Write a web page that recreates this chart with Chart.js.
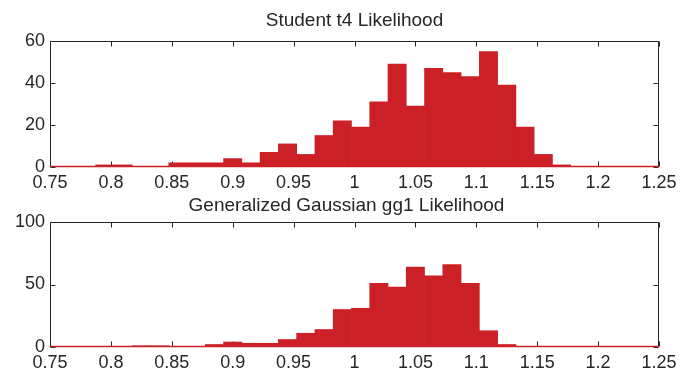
<!DOCTYPE html>
<html>
<head>
<meta charset="utf-8">
<script src="https://cdn.jsdelivr.net/npm/chart.js@4"></script>
<style>
  html, body { margin: 0; padding: 0; background: #fff; }
  #wrap { position: relative; width: 692px; height: 372px; }
  canvas { position: absolute; left: 0; }
</style>
</head>
<body>
<div id="wrap">
  <canvas id="studentChart" width="692" height="190" style="top:0"></canvas>
  <canvas id="ggChart" width="692" height="182" style="top:190px"></canvas>
</div>
<script>
// Bin centres shared by both histograms
const binCenters = [0.795, 0.810, 0.825, 0.840, 0.855, 0.870, 0.885, 0.900, 0.915, 0.930,
                    0.945, 0.960, 0.975, 0.990, 1.005, 1.020, 1.035, 1.050, 1.065, 1.080,
                    1.095, 1.110, 1.125, 1.140, 1.155, 1.170];

// Counts per bin
const studentCounts = [1, 1, 0, 0, 2, 2, 2, 4, 2, 7, 11, 6, 15, 22, 19, 31, 49, 29, 47, 45,
                       43, 55, 39, 19, 6, 1];
const ggCounts = [0, 0, 1, 1, 0, 0, 2, 4, 3, 3, 6, 11, 14, 30, 31, 51, 48, 64, 57, 66,
                  51, 13, 2, 0, 0, 0];

// Axis tick labels
const xTickLabels = ['0.75', '0.8', '0.85', '0.9', '0.95', '1', '1.05', '1.1', '1.15', '1.2', '1.25'];
const studentYTicks = [0, 20, 40, 60];
const ggYTicks = [0, 50, 100];

const titles = ['Student t4 Likelihood', 'Generalized Gaussian gg1 Likelihood'];

const RED = '#cc2027';
const INK = '#262626';
const FONT = 'Liberation Sans, Arial, Helvetica, sans-serif';

// MATLAB style box with inward ticks, red zero line, and panel title
const marcoMatlab = {
    id: 'marcoMatlab',
    beforeDatasetsDraw(chart) {
        const { ctx, chartArea: a } = chart;
        const x = chart.scales.x, y = chart.scales.y;
        const L = Math.round(a.left) + 0.5, R = Math.round(a.right) - 0.5;
        const T = Math.round(a.top) + 0.5, B = Math.round(a.bottom) - 0.5;
        ctx.save();
        ctx.strokeStyle = INK;
        ctx.lineWidth = 1;
        ctx.beginPath();
        for (let i = 0; i < x.ticks.length; i++) {
            const px = Math.round(x.getPixelForTick(i)) + 0.5;
            ctx.moveTo(px, B); ctx.lineTo(px, B - 5);
            ctx.moveTo(px, T); ctx.lineTo(px, T + 5);
        }
        for (let i = 0; i < y.ticks.length; i++) {
            const py = Math.round(y.getPixelForTick(i)) + 0.5;
            ctx.moveTo(L, py); ctx.lineTo(L + 5, py);
            ctx.moveTo(R, py); ctx.lineTo(R - 5, py);
        }
        ctx.moveTo(L, B); ctx.lineTo(L, T); ctx.lineTo(R, T); ctx.lineTo(R, B);
        ctx.stroke();
        ctx.restore();
    },
    afterDatasetsDraw(chart, args, opts) {
        const { ctx, chartArea: a } = chart;
        const B = Math.round(a.bottom) - 0.5;
        ctx.save();
        ctx.strokeStyle = RED;
        ctx.lineWidth = 1.5;
        ctx.beginPath();
        ctx.moveTo(Math.round(a.left), B);
        ctx.lineTo(Math.round(a.right), B);
        ctx.stroke();
        // title
        ctx.fillStyle = INK;
        ctx.font = '19px ' + FONT;
        ctx.textAlign = 'center';
        ctx.textBaseline = 'alphabetic';
        ctx.fillText(opts.text, (a.left + a.right) / 2 + opts.dx, opts.baseline);
        ctx.restore();
    }
};

function crearHistograma(canvasId, titulo, counts, yTicks, cfg) {
    return new Chart(document.getElementById(canvasId), {
        type: 'bar',
        data: {
            datasets: [{
                data: binCenters.map((c, i) => ({ x: c, y: counts[i] })),
                backgroundColor: RED,
                borderWidth: 0,
                barPercentage: 1,
                categoryPercentage: 1,
            }],
        },
        options: {
            responsive: false,
            animation: false,
            layout: { padding: { left: 0, right: 33, top: cfg.padTop, bottom: 0 } },
            plugins: {
                legend: { display: false },
                tooltip: { enabled: false },
                title: { display: false },
                marcoMatlab: { text: titulo, dx: cfg.dx, baseline: cfg.baseline },
            },
            scales: {
                x: {
                    type: 'linear',
                    min: 0.75,
                    max: 1.25,
                    offset: false,
                    grid: { display: false, drawTicks: false },
                    border: { display: false },
                    ticks: {
                        stepSize: 0.05,
                        autoSkip: false,
                        maxRotation: 0,
                        padding: 5,
                        color: INK,
                        font: { family: FONT, size: 18 },
                        callback: (v, i) => xTickLabels[i],
                    },
                    afterFit: s => { s.height = cfg.xHeight; },
                },
                y: {
                    min: yTicks[0],
                    max: yTicks[yTicks.length - 1],
                    grid: { display: false, drawTicks: false },
                    border: { display: false },
                    ticks: {
                        stepSize: yTicks[1] - yTicks[0],
                        padding: 5,
                        color: INK,
                        font: { family: FONT, size: 18 },
                    },
                    afterFit: s => { s.width = 50; },
                },
            },
        },
        plugins: [marcoMatlab],
    });
}

crearHistograma('studentChart', titles[0], studentCounts, studentYTicks,
    { padTop: 41, dx: 0, baseline: 26, xHeight: 23 });
crearHistograma('ggChart', titles[1], ggCounts, ggYTicks,
    { padTop: 32, dx: -8, baseline: 21, xHeight: 25 });
</script>
</body>
</html>
